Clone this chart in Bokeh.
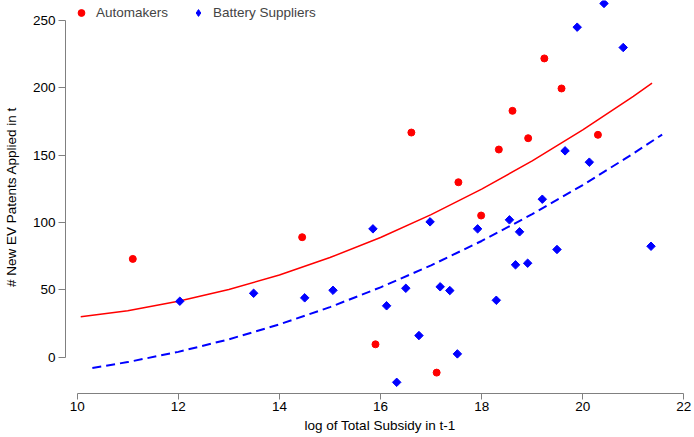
import numpy as np
from bokeh.plotting import figure
from bokeh.models import Range1d, Legend, LegendItem
from bokeh.embed import file_html
from bokeh.resources import INLINE

# ---- data ----
auto_x = [11.10, 14.45, 15.90, 16.61, 17.11, 17.54, 17.99, 18.34, 18.61, 18.92, 19.24, 19.58, 20.30]
auto_y = [73.0, 89.1, 9.6, 166.8, -11.4, 129.9, 105.2, 154.2, 182.9, 162.6, 221.8, 199.5, 165.1]

batt_x = [12.03, 13.49, 14.50, 15.06, 15.85, 16.12, 16.32, 16.50, 16.76, 16.98, 17.18, 17.37,
          17.52, 17.92, 18.29, 18.55, 18.67, 18.75, 18.91, 19.20, 19.49, 19.65, 19.89, 20.13,
          20.42, 20.80, 21.35]
batt_y = [41.6, 47.5, 44.1, 49.7, 95.3, 38.2, -18.6, 51.2, 16.1, 100.5, 52.3, 49.5,
          2.5, 95.3, 42.3, 102.0, 68.6, 93.1, 69.8, 117.3, 80.0, 153.2, 245.0, 144.8,
          262.6, 229.9, 82.4]

# fitted curves
fit_auto_x = [10.07, 11.0, 12.0, 13.0, 14.0, 15.0, 16.0, 17.0, 18.0, 19.0, 20.0, 21.0, 21.37]
fit_auto_y = [30.0, 34.5, 41.5, 50.3, 61.1, 74.0, 88.9, 105.9, 124.8, 145.7, 168.7, 193.6, 203.4]

fit_batt_x = [10.30, 11.0, 12.0, 13.0, 14.0, 15.0, 16.0, 17.0, 18.0, 19.0, 20.0, 21.0, 21.57]
fit_batt_y = [-7.9, -3.6, 4.0, 13.3, 24.4, 37.2, 51.9, 68.2, 86.3, 106.2, 127.8, 151.2, 165.3]

x_ticks = [10, 12, 14, 16, 18, 20, 22]
y_ticks = [0, 50, 100, 150, 200, 250]

FONT = "Liberation Sans"
FS = "13.5px"
GRAY = "#808080"

p = figure(width=694, height=437, x_range=Range1d(9.769, 22.21), y_range=Range1d(-26.9, 264.8),
           output_backend="svg", toolbar_location=None,
           min_border_left=65, min_border_right=0, min_border_top=0, min_border_bottom=44)
p.outline_line_color = None
p.xgrid.visible = False
p.ygrid.visible = False
p.background_fill_color = "white"
p.border_fill_color = "white"

p.line(fit_auto_x, fit_auto_y, line_color="red", line_width=1.5)
p.line(fit_batt_x, fit_batt_y, line_color="blue", line_width=2, line_dash="9 5")

r1 = p.scatter(auto_x, auto_y, marker="circle", size=7, fill_color="red", line_color="red")
p.scatter(batt_x, batt_y, marker="square", angle=np.pi / 4, size=6,
          fill_color="blue", line_color="blue")
# hidden twin of the battery points, used only to draw a diamond in the key
r2_key = p.scatter(batt_x, batt_y, marker="diamond", size=9, fill_color="blue",
                   line_color="blue", visible=False)

for ax, ticks, bounds in ((p.xaxis[0], x_ticks, (10, 22)), (p.yaxis[0], y_ticks, (0, 250))):
    ax.ticker = ticks
    ax.bounds = bounds
    ax.axis_line_color = GRAY
    ax.major_tick_line_color = GRAY
    ax.minor_tick_line_color = None
    ax.major_tick_in = 0
    ax.major_label_text_font = FONT
    ax.major_label_text_font_size = FS
    ax.major_label_text_color = "black"
    ax.axis_label_text_font = FONT
    ax.axis_label_text_font_size = FS
    ax.axis_label_text_font_style = "normal"
    ax.axis_label_text_color = "black"

p.xaxis.axis_label = "log of Total Subsidy in t-1"
p.xaxis.major_tick_out = 6
p.xaxis.major_label_standoff = 2
p.xaxis.axis_label_standoff = 4

p.yaxis.axis_label = "# New EV Patents Applied in t"
p.yaxis.major_tick_out = 7
p.yaxis.major_label_standoff = 3
p.yaxis.axis_label_standoff = 11

legend = Legend(items=[LegendItem(label="Automakers", renderers=[r1]),
                       LegendItem(label="Battery Suppliers", renderers=[r2_key])],
                orientation="horizontal", location="top_left", click_policy="none",
                border_line_color=None, background_fill_alpha=0,
                padding=5, margin=2, spacing=16, glyph_width=28, glyph_height=17,
                label_height=20, label_standoff=1,
                label_text_font=FONT, label_text_font_size=FS)
p.add_layout(legend)

open("out.html", "w").write(file_html(p, INLINE))
